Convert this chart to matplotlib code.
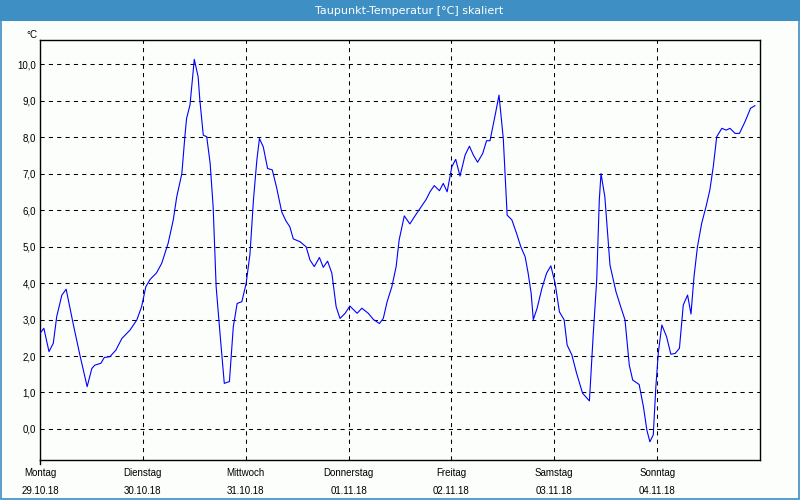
import matplotlib
matplotlib.use("Agg")
import matplotlib.pyplot as plt
from matplotlib.patches import Rectangle

plt.rcParams['font.family'] = ['Liberation Sans', 'DejaVu Sans']

# stunden seit Montag 00:00, taupunkt in grad C
hours = [0, 0.9, 2.1, 3.1, 3.9, 5.1, 6.1, 7.8, 9.3, 11.0, 12.1, 12.8, 14.2, 15.0,
         16.3, 17.7, 19.1, 21.0, 22.6, 23.7, 24.7, 25.7, 27.2, 28.4, 29.9, 31.1,
         31.9, 33.1, 33.8, 34.2, 35.0, 36.0, 36.9, 37.3, 38.1, 38.9, 39.7, 40.4,
         41.1, 42.0, 43.0, 44.2, 45.1, 46.0, 47.1, 48.1, 49.0, 49.8, 50.6, 51.2,
         52.1, 53.1, 54.2, 55.2, 56.4, 57.4, 58.3, 59.1, 60.7, 62.1, 63.0, 64.0,
         65.2, 66.1, 67.1, 68.1, 69.1, 70.0, 71.2, 72.3, 74.0, 75.1, 76.6, 77.8,
         79.2, 80.1, 81.0, 82.1, 83.1, 83.8, 85.0, 86.3, 87.5, 88.7, 90.1, 91.0,
         92.0, 93.2, 94.1, 95.0, 96.1, 97.0, 98.0, 99.2, 100.2, 101.1, 102.1,
         103.3, 104.2, 105.0, 106.2, 107.1, 108.1, 108.5, 109.0, 110.1, 111.2,
         112.2, 113.2, 113.9, 114.6, 115.1, 116.0, 117.1, 118.2, 119.2, 120.2,
         121.2, 122.3, 123.0, 124.1, 125.2, 126.6, 128.2, 129.1, 129.9, 130.5,
         130.9, 131.8, 133.0, 134.4, 135.5, 136.5, 137.5, 138.3, 139.8, 140.8,
         141.6, 142.3, 143.1, 143.7, 144.3, 145.1, 146.2, 147.2, 148.2, 149.2,
         150.1, 151.1, 151.9, 152.6, 153.4, 154.4, 155.4, 156.3, 157.1, 157.9,
         159.1, 160.1, 161.0, 162.2, 163.2, 164.5, 165.8, 166.8]
dewpoint = [2.62, 2.76, 2.12, 2.35, 3.08, 3.67, 3.83, 2.85, 2.03, 1.16, 1.66, 1.75,
            1.80, 1.96, 1.98, 2.16, 2.48, 2.71, 2.99, 3.35, 3.90, 4.10, 4.28, 4.54,
            5.09, 5.73, 6.36, 7.00, 8.01, 8.51, 8.88, 10.13, 9.65, 9.01, 8.05, 8.01,
            7.28, 6.09, 3.90, 2.62, 1.25, 1.30, 2.80, 3.44, 3.49, 3.99, 4.80, 6.27,
            7.37, 7.96, 7.73, 7.14, 7.10, 6.62, 5.95, 5.70, 5.54, 5.21, 5.13, 4.99,
            4.63, 4.45, 4.70, 4.43, 4.60, 4.27, 3.35, 3.03, 3.17, 3.37, 3.17, 3.31,
            3.17, 3.00, 2.89, 3.03, 3.49, 3.90, 4.45, 5.18, 5.84, 5.62, 5.84, 6.05,
            6.29, 6.50, 6.67, 6.53, 6.73, 6.50, 7.19, 7.39, 6.93, 7.51, 7.75, 7.51,
            7.31, 7.55, 7.90, 7.90, 8.60, 9.15, 7.96, 7.00, 5.86, 5.73, 5.36, 4.99,
            4.72, 4.27, 3.72, 3.00, 3.31, 3.85, 4.27, 4.47, 3.99, 3.21, 2.99, 2.30,
            2.03, 1.53, 0.98, 0.77, 2.62, 4.08, 6.27, 7.00, 6.36, 4.49, 3.76, 3.35,
            2.99, 1.75, 1.34, 1.22, 0.61, -0.03, -0.35, -0.16, 1.16, 2.12, 2.85,
            2.53, 2.05, 2.07, 2.21, 3.40, 3.67, 3.15, 4.17, 4.99, 5.64, 6.09, 6.55,
            7.19, 8.01, 8.24, 8.19, 8.24, 8.10, 8.10, 8.42, 8.79, 8.86]

day_names = ['Montag', 'Dienstag', 'Mittwoch', 'Donnerstag', 'Freitag', 'Samstag', 'Sonntag']
day_dates = ['29.10.18', '30.10.18', '31.10.18', '01.11.18', '02.11.18', '03.11.18', '04.11.18']
y_ticks = [0, 1, 2, 3, 4, 5, 6, 7, 8, 9, 10]

blue_bar = '#3d8fc4'

fig = plt.figure(figsize=(8, 5), dpi=100)
fig.patch.set_facecolor('#fcfefc')

# titelleiste + rahmen
fig.patches.append(Rectangle((0, 0.958), 1, 0.042, transform=fig.transFigure,
                             facecolor=blue_bar, edgecolor='none', zorder=0))
fig.patches.append(Rectangle((0.0008, 0.0015), 0.9984, 0.96, transform=fig.transFigure,
                             facecolor='none', edgecolor=blue_bar, linewidth=1.2, zorder=0))
fig.text(0.511, 0.979, 'Taupunkt-Temperatur [°C] skaliert', color='white',
         ha='center', va='center', fontsize=8, family=['DejaVu Sans'])

ax = fig.add_axes([0.05, 0.08, 0.9, 0.84])
ax.set_facecolor('#fcfefc')
ax.plot(hours, dewpoint, color='#0000ff', linewidth=0.8, zorder=3)

ax.set_xlim(0, 168)
ax.set_ylim(-0.85, 10.66)

ax.set_yticks(y_ticks)
ax.set_yticklabels([f'{v:.1f}'.replace('.', ',') for v in y_ticks])
ax.set_xticks([24 * i for i in range(7)])
ax.set_xticklabels([f'{n}\n{d}' for n, d in zip(day_names, day_dates)], linespacing=2.0)

ax.tick_params(axis='y', length=0, pad=3, labelsize=7)
ax.tick_params(axis='x', length=0, pad=6, labelsize=7)

for v in y_ticks:
    ax.axhline(v, color='black', linestyle=(0, (4, 4)), linewidth=0.75, zorder=1)
for i in range(1, 7):
    ax.axvline(24 * i, color='black', linestyle=(0, (4, 4)), linewidth=0.75, zorder=1)

for s in ax.spines.values():
    s.set_linewidth(1.0)

# kleiner strich unter der linken achse
ax.plot([0, 0], [-0.85, -0.95], color='black', linewidth=1.0, clip_on=False)

ax.text(-0.004, 1.0, '°C', transform=ax.transAxes, ha='right', va='bottom', fontsize=7)

fig.savefig('out.png', dpi=100, facecolor=fig.get_facecolor())
